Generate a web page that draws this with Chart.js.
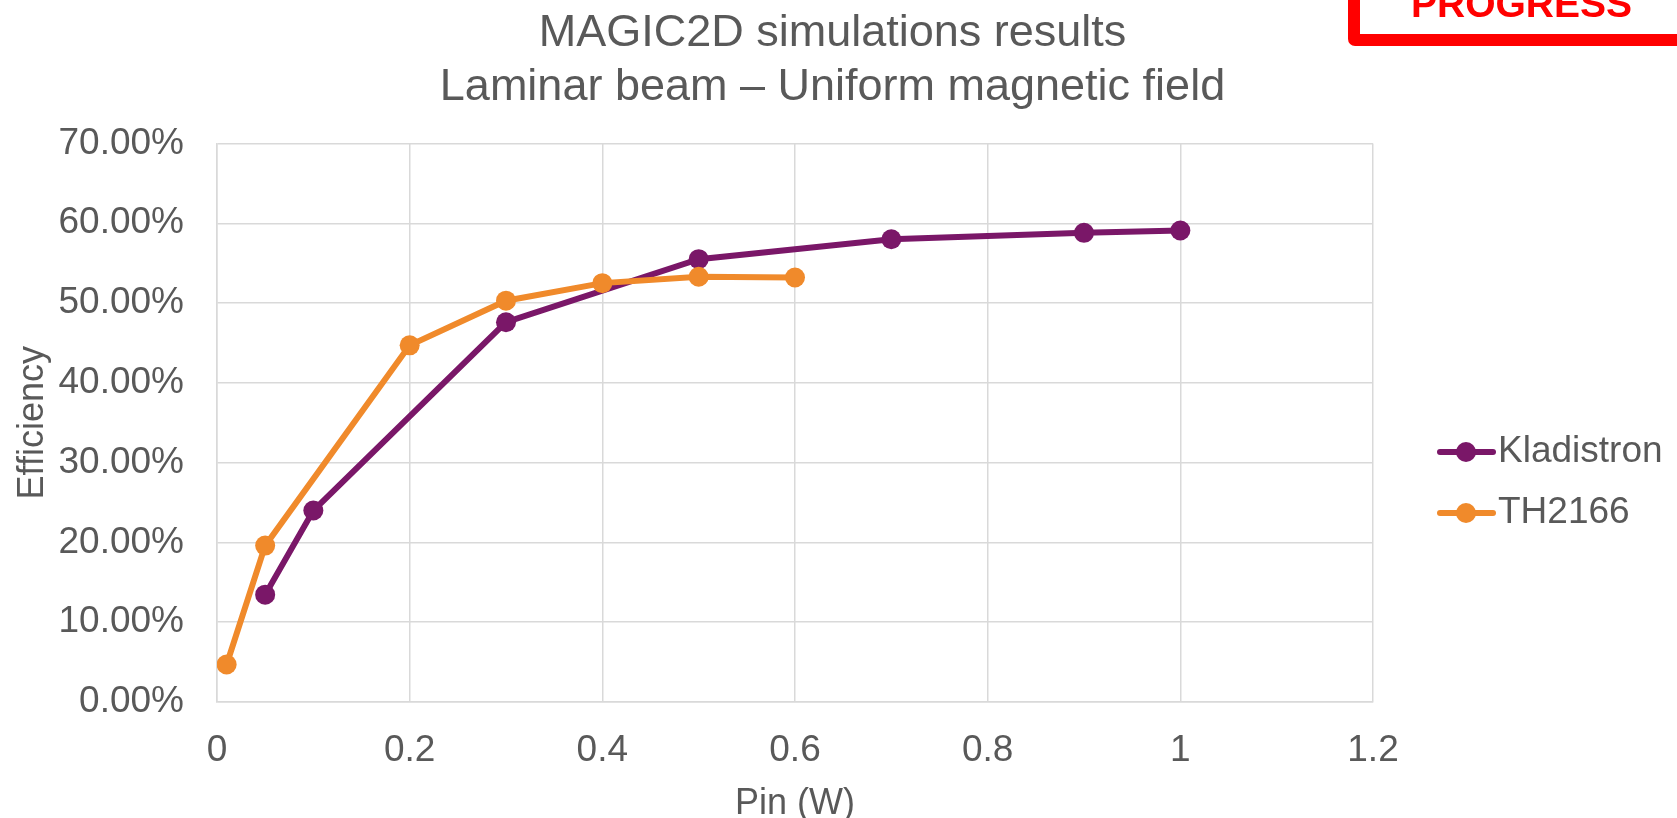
<!DOCTYPE html>
<html>
<head>
<meta charset="utf-8">
<title>MAGIC2D simulations results</title>
<script src="https://cdn.jsdelivr.net/npm/chart.js@4.4.1/dist/chart.umd.min.js"></script>
<style>
  html, body { margin: 0; padding: 0; background: #ffffff; overflow: hidden; }
  #wrap { position: relative; width: 1677px; height: 818px; }
  #chart { position: absolute; left: 0; top: 0; }
  #stamp {
    position: absolute; left: 1348px; top: -58px; width: 400px; height: 80px;
    border: 12px solid #ff0000; border-radius: 7px; box-sizing: content-box;
  }
  #stamp-text {
    position: absolute; left: 1411px; top: -16px;
    font: bold 39px "Liberation Sans", Arial, sans-serif; line-height: 1;
    color: #ff0000; white-space: nowrap;
  }
</style>
</head>
<body>
<div id="wrap">
  <canvas id="chart" width="1677" height="818"></canvas>
  <div id="stamp"></div>
  <div id="stamp-text">PROGRESS</div>
</div>
<script>
// Input power (W) and efficiency (%) for each tube
const seriesNames = ['Kladistron', 'TH2166'];
const kladistronPin = [0.05, 0.1, 0.3, 0.5, 0.7, 0.9, 1.0];
const kladistronEff = [13.45, 24.0, 47.6, 55.5, 58.0, 58.8, 59.1];
const th2166Pin = [0.01, 0.05, 0.2, 0.3, 0.4, 0.5, 0.6];
const th2166Eff = [4.7, 19.6, 44.7, 50.3, 52.5, 53.3, 53.2];

// Axis ticks
const xTicks = [0, 0.2, 0.4, 0.6, 0.8, 1.0, 1.2];
const yTicks = [0, 10, 20, 30, 40, 50, 60, 70];

const TEXT = '#595959';
const GRID = '#d9d9d9';
const FONT = '"Liberation Sans", Arial, sans-serif';
const colors = ['#7a1768', '#f08a2b'];

const toPoints = (xs, ys) => xs.map((x, i) => ({ x: x, y: ys[i] }));

// Legend with a line-and-marker swatch beside each series name
const sideLegend = {
  id: 'sideLegend',
  afterDraw(chart) {
    const ctx = chart.ctx;
    const rows = [452, 513];
    ctx.save();
    chart.data.datasets.forEach((ds, i) => {
      const y = rows[i];
      ctx.strokeStyle = ds.borderColor;
      ctx.lineWidth = 6;
      ctx.lineCap = 'round';
      ctx.beginPath();
      ctx.moveTo(1440, y);
      ctx.lineTo(1493, y);
      ctx.stroke();
      ctx.fillStyle = ds.borderColor;
      ctx.beginPath();
      ctx.arc(1466, y, 10, 0, Math.PI * 2);
      ctx.fill();
      ctx.fillStyle = TEXT;
      ctx.font = '37px ' + FONT;
      ctx.textAlign = 'left';
      ctx.textBaseline = 'middle';
      ctx.fillText(ds.label, 1498, y);
    });
    ctx.restore();
  }
};

new Chart(document.getElementById('chart'), {
  type: 'line',
  data: {
    datasets: [
      {
        label: seriesNames[0],
        data: toPoints(kladistronPin, kladistronEff),
        borderColor: colors[0],
        backgroundColor: colors[0],
        borderWidth: 6,
        pointRadius: 10,
        pointBorderWidth: 0,
        pointBackgroundColor: colors[0],
        tension: 0,
        order: 1
      },
      {
        label: seriesNames[1],
        data: toPoints(th2166Pin, th2166Eff),
        borderColor: colors[1],
        backgroundColor: colors[1],
        borderWidth: 6,
        pointRadius: 10,
        pointBorderWidth: 0,
        pointBackgroundColor: colors[1],
        tension: 0,
        order: 0
      }
    ]
  },
  options: {
    responsive: false,
    animation: false,
    devicePixelRatio: 1,
    layout: { padding: { left: 0, right: 12, top: 0, bottom: 0 } },
    plugins: {
      legend: { display: false },
      tooltip: { enabled: false },
      title: {
        display: true,
        text: ['MAGIC2D simulations results', 'Laminar beam \u2013 Uniform magnetic field'],
        color: TEXT,
        font: { family: FONT, size: 45, weight: 'normal', lineHeight: 1.19 },
        padding: { top: 7, bottom: 29.4 }
      }
    },
    scales: {
      x: {
        type: 'linear',
        min: 0,
        max: 1.2,
        afterBuildTicks: (s) => { s.ticks = xTicks.map(v => ({ value: v })); },
        afterFit: (s) => { s.height = 116; },
        grid: { color: GRID, lineWidth: 1.5, drawTicks: false },
        border: { color: GRID, width: 1.5 },
        ticks: {
          color: TEXT,
          font: { family: FONT, size: 37, lineHeight: 1.2 },
          padding: 27,
          callback: (v) => String(Number(v.toFixed(1)))
        },
        title: {
          display: true,
          text: 'Pin (W)',
          color: TEXT,
          font: { family: FONT, size: 36, lineHeight: 0.8 },
          padding: { top: 0, bottom: 0 }
        }
      },
      y: {
        type: 'linear',
        position: 'left',
        min: 0,
        max: 70,
        afterBuildTicks: (s) => { s.ticks = yTicks.map(v => ({ value: v })); },
        afterFit: (s) => { s.width = 217; },
        grid: { color: GRID, lineWidth: 1.5, drawTicks: false },
        border: { color: GRID, width: 1.5 },
        ticks: {
          color: TEXT,
          font: { family: FONT, size: 37, lineHeight: 1.2 },
          padding: 33,
          callback: (v) => v.toFixed(2) + '%'
        },
        title: {
          display: true,
          text: 'Efficiency',
          color: TEXT,
          font: { family: FONT, size: 36, lineHeight: 1 },
          padding: { top: 15, bottom: 0 }
        }
      },
      legendSpace: {
        type: 'linear',
        position: 'right',
        display: true,
        afterFit: (s) => { s.width = 292; },
        grid: { display: false, drawOnChartArea: false },
        border: { display: false },
        ticks: { display: false }
      }
    }
  },
  plugins: [sideLegend]
});
</script>
</body>
</html>
